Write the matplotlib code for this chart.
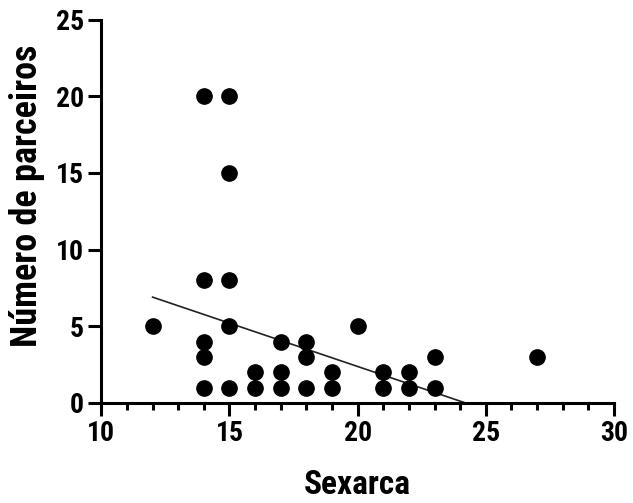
import matplotlib
matplotlib.use('Agg')
import matplotlib.pyplot as plt
from matplotlib.ticker import MultipleLocator

# idade da sexarca vs numero de parceiros
sexarca = [12, 14, 15, 15, 14, 15, 15, 14, 14, 14, 15, 16, 16, 17, 17, 17,
           18, 18, 18, 19, 19, 20, 21, 21, 22, 22, 23, 23, 27]
parceiros = [5, 20, 20, 15, 8, 8, 5, 4, 3, 1, 1, 2, 1, 4, 2, 1,
             4, 3, 1, 2, 1, 5, 2, 1, 2, 1, 3, 1, 3]

# reta de regressao
fit_x = [12.0, 24.2]
fit_y = [6.9, 0.0]

plt.rcParams['font.family'] = ['Roboto Condensed', 'Liberation Sans', 'DejaVu Sans']
plt.rcParams['font.weight'] = 'bold'

fig = plt.figure(figsize=(6.33, 5.03), dpi=100)
ax = fig.add_axes([0.16, 0.199, 0.81, 0.762])

ax.plot(sexarca, parceiros, 'o', color='black', markersize=11, clip_on=False, zorder=3)
ax.plot(fit_x, fit_y, '-', color='#222222', linewidth=1.2, zorder=2)

ax.set_xlim(10, 30)
ax.set_ylim(0, 25)

ax.xaxis.set_major_locator(MultipleLocator(5))
ax.xaxis.set_minor_locator(MultipleLocator(1))
ax.yaxis.set_major_locator(MultipleLocator(5))

for side in ['top', 'right']:
	ax.spines[side].set_visible(False)
for side in ['left', 'bottom']:
	ax.spines[side].set_linewidth(2.2)

ax.tick_params(axis='both', which='major', length=9.5, width=2.2, labelsize=20, pad=3)
ax.tick_params(axis='x', which='minor', length=5, width=2.2)

for lbl in ax.get_xticklabels() + ax.get_yticklabels():
	lbl.set_fontweight('bold')

ax.set_xlabel('Sexarca', fontsize=24, fontweight='bold')
ax.set_ylabel('Número de parceiros', fontsize=26, fontweight='bold')
ax.xaxis.set_label_coords(0.5, -0.172)
ax.yaxis.set_label_coords(-0.11, 0.54)

fig.savefig('out.png', dpi=100)
